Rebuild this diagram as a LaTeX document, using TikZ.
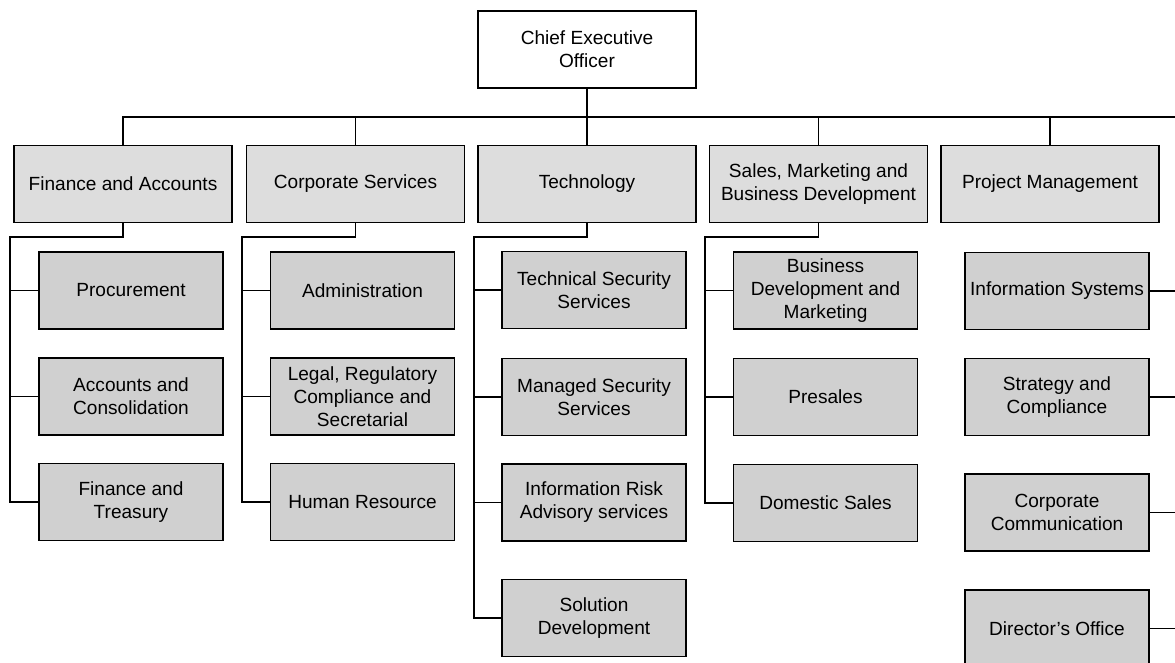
\documentclass[tikz,border=0pt]{standalone}
\usepackage{fontspec}
\setmainfont{Liberation Sans}
\definecolor{topfill}{HTML}{DDDDDD}
\definecolor{subfill}{HTML}{D0D0D0}
\begin{document}
\begin{tikzpicture}[x=0.75pt,y=-0.75pt,
  font=\fontsize{14.3}{17.2}\selectfont,
  box/.style={draw=black,line width=1.3pt,align=center,inner sep=2pt,
    minimum width=163.5pt,minimum height=57.75pt},
  ceobox/.style={box,fill=white},
  headbox/.style={box,fill=topfill},
  subbox/.style={box,fill=subfill,minimum width=138pt},
  link/.style={draw=black,line width=1.2pt}]
\useasboundingbox (0,0) rectangle (1175,662);
\clip (0,0) rectangle (1175,662);
% top
\node[ceobox] (ceo) at (587,49.5) {Chief Executive\\Officer};
\node[headbox] (fa) at (123,184) {Finance and Accounts};
\node[headbox] (cs) at (355.5,184) {Corporate Services};
\node[headbox] (te) at (587,184) {Technology};
\node[headbox] (sm) at (818.5,184) {Sales, Marketing and\\Business Development};
\node[headbox] (pm) at (1050,184) {Project Management};
% finance
\node[subbox] (fa1) at (131,290.5) {Procurement};
\node[subbox] (fa2) at (131,396.5) {Accounts and\\Consolidation};
\node[subbox] (fa3) at (131,502) {Finance and\\Treasury};
% corporate services
\node[subbox] (cs1) at (362.5,290.5) {Administration};
\node[subbox] (cs2) at (362.5,396.5) {Legal, Regulatory\\Compliance and\\Secretarial};
\node[subbox] (cs3) at (362.5,502) {Human Resource};
% technology
\node[subbox] (te1) at (594,290) {Technical Security\\Services};
\node[subbox] (te2) at (594,397) {Managed Security\\Services};
\node[subbox] (te3) at (594,502.5) {Information Risk\\Advisory services};
\node[subbox] (te4) at (594,618) {Solution\\Development};
% sales
\node[subbox] (sm1) at (825.5,290.5) {Business\\Development and\\Marketing};
\node[subbox] (sm2) at (825.5,397) {Presales};
\node[subbox] (sm3) at (825.5,503) {Domestic Sales};
% project management
\node[subbox] (pm1) at (1057,291) {Information Systems};
\node[subbox] (pm2) at (1057,397) {Strategy and\\Compliance};
\node[subbox] (pm3) at (1057,512.5) {Corporate\\Communication};
\node[subbox] (pm4) at (1057,628.5) {Director's Office};
% coordinates
\coordinate (busR) at (1175,117);
\coordinate (edge) at (1175,0);
\coordinate (farail) at (10,237);
\coordinate (csrail) at (242,237);
\coordinate (terail) at (474,237);
\coordinate (smrail) at (705,237);
% connectors
\draw[link] (ceo.south) -- (te.north);
\draw[link] (fa.north) |- (busR);
\draw[link] (cs.north) -- (cs.north |- busR);
\draw[link] (sm.north) -- (sm.north |- busR);
\draw[link] (pm.north) -- (pm.north |- busR);
% finance
\draw[link] (fa.south) |- (farail) |- (fa3.west);
\draw[link] (farail) |- (fa1.west);
\draw[link] (farail) |- (fa2.west);
% corporate
\draw[link] (cs.south) |- (csrail) |- (cs3.west);
\draw[link] (csrail) |- (cs1.west);
\draw[link] (csrail) |- (cs2.west);
% technology
\draw[link] (te.south) |- (terail) |- (te4.west);
\draw[link] (terail) |- (te1.west);
\draw[link] (terail) |- (te2.west);
\draw[link] (terail) |- (te3.west);
% sales
\draw[link] (sm.south) |- (smrail) |- (sm3.west);
\draw[link] (smrail) |- (sm1.west);
\draw[link] (smrail) |- (sm2.west);
% project management (lines run off the right edge)
\draw[link] (pm1.east) -- (pm1.east -| edge);
\draw[link] (pm2.east) -- (pm2.east -| edge);
\draw[link] (pm3.east) -- (pm3.east -| edge);
\draw[link] (pm4.east) -- (pm4.east -| edge);
\end{tikzpicture}
\end{document}
